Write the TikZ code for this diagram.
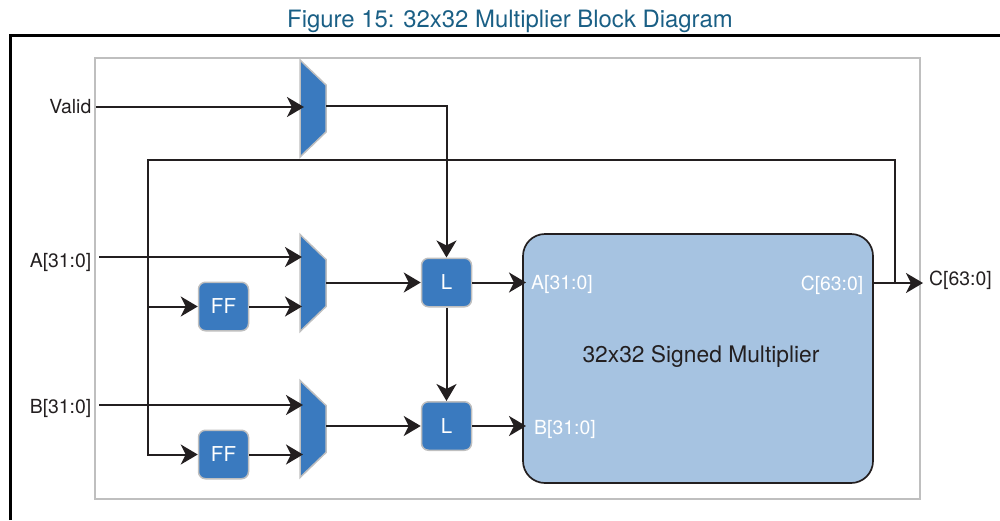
\documentclass[tikz,border=0pt]{standalone}
\usepackage{fontspec}
\setmainfont{TeX Gyre Heros}
\usetikzlibrary{arrows.meta}
\definecolor{blk}{HTML}{231F20}
\definecolor{blu}{HTML}{3A7ABF}
\definecolor{lblu}{HTML}{A6C3E1}
\definecolor{gry}{HTML}{BFBFBF}
\definecolor{ttl}{HTML}{1A5F85}
\tikzset{
  wire/.style={draw=blk,line width=2pt},
  arr/.style={wire,-{Stealth[length=17pt,width=20pt,inset=5pt]}},
  lbl/.style={inner sep=0pt,text=blk,font=\fontsize{19.4}{22}\selectfont},
  wlbl/.style={inner sep=0pt,text=white,font=\fontsize{19.4}{22}\selectfont},
  blockbox/.style={draw=gry,fill=blu,line width=1.5pt,rounded corners=7pt,text=white,
    minimum width=50pt,minimum height=48.5pt,inner sep=0pt,font=\fontsize{20.5}{22}\selectfont},
  muxframe/.style={rectangle,inner sep=0pt,outer sep=0pt,minimum width=26pt,minimum height=97pt},
  muxshape/.style={draw=gry,fill=blu,line width=1.5pt}
}
\newcommand{\muxdraw}[1]{\draw[muxshape] (#1.north west) -- ([yshift=-25pt]#1.north east) -- ([yshift=25pt]#1.south east) -- (#1.south west) -- cycle;}
\begin{document}
\begin{tikzpicture}[x=1pt,y=-1pt]
\useasboundingbox (0,0) rectangle (1000,520);
\node[inner sep=0pt,text=ttl,font=\fontsize{23.9}{27}\selectfont] (title) at (510,21) {Figure 15: 32x32 Multiplier Block Diagram};
\draw[black,line width=2.2pt] (10.5,520) -- (10.5,35.5) -- (1000,35.5);
\node[draw=gry,line width=2pt,minimum width=825pt,minimum height=441pt,inner sep=0pt] (outer) at (507.5,278.5) {};
% blocks
\node[muxframe] (m1) at (313,108.5) {};
\node[muxframe] (m2) at (313,283) {};
\node[muxframe] (m3) at (313,429) {};
\muxdraw{m1}\muxdraw{m2}\muxdraw{m3}
\node[blockbox] (ff1) at (223.5,306.5) {FF};
\node[blockbox] (ff2) at (223.5,454.5) {FF};
\node[blockbox] (l1) at (446.5,282.5) {L};
\node[blockbox] (l2) at (446.5,426) {L};
\node[draw=blk,fill=lblu,line width=1.7pt,rounded corners=22pt,minimum width=350pt,minimum height=249pt,inner sep=0pt] (mult) at (698,358.5) {};
\node[inner sep=0pt,text=blk,font=\fontsize{22.8}{25}\selectfont] (multl) at (701,356) {32x32 Signed Multiplier};
% labels
\node[lbl,anchor=east] (vlab) at (91.5,107) {Valid};
\node[lbl,anchor=east] (alab) at (91.5,262) {A[31:0]};
\node[lbl,anchor=east] (blab) at (91.5,408) {B[31:0]};
\node[lbl,anchor=west] (clab) at (929,280) {C[63:0]};
\node[wlbl,anchor=west] (ma) at (531,284) {A[31:0]};
\node[wlbl,anchor=west] (mb) at (534,429) {B[31:0]};
\node[wlbl,anchor=east] (mc) at (863.5,285) {C[63:0]};
% ports
\coordinate (vs) at (96,107);
\coordinate (vt) at (304,107);
\coordinate (m1o) at (326,106);
\coordinate (as) at (99,257);
\coordinate (at2) at (302,257);
\coordinate (bs) at (99,405);
\coordinate (bt) at (303,405);
\coordinate (f1t) at (302,306.5);
\coordinate (f2t) at (303,454.5);
\coordinate (m2o) at (326,282.5);
\coordinate (m3o) at (326,426);
\coordinate (mai) at (526,282.5);
\coordinate (mbi) at (526,426);
\coordinate (mco) at (873,283);
\coordinate (cout) at (923,283);
\coordinate (tap) at (895,283);
\coordinate (bus) at (148,160);
\coordinate (top) at (895,160);
% connectors
\draw[arr] (vs) -- (vt);
\draw[arr] (m1o) -| (l1.north);
\draw[arr] (tap) -- (top) -- (bus) |- (ff2.west);
\draw[arr] (bus |- ff1) -- (ff1.west);
\draw[arr] (as) -- (at2);
\draw[arr] (bs) -- (bt);
\draw[arr] (ff1.east) -- (f1t);
\draw[arr] (ff2.east) -- (f2t);
\draw[arr] (m2o) -- (l1.west);
\draw[arr] (m3o) -- (l2.west);
\draw[arr] (l1.east) -- (mai);
\draw[arr] (l2.east) -- (mbi);
\draw[arr] (l1.south) -- (l2.north);
\draw[arr] (mco) -- (cout);
\end{tikzpicture}
\end{document}
